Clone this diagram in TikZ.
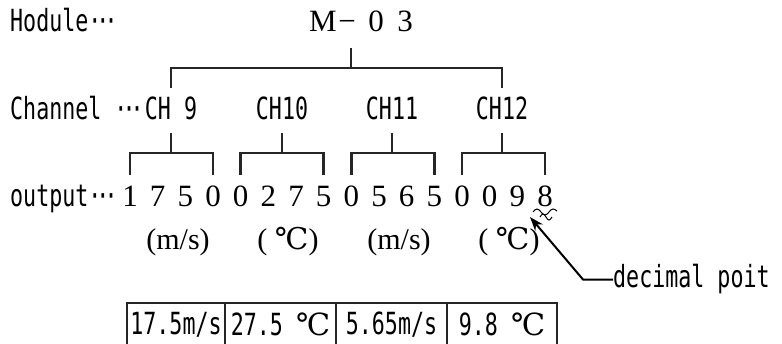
\documentclass[tikz,border=0pt]{standalone}
\usepackage{fontspec}
\setmainfont{Liberation Serif}
\newfontfamily\gothic[FakeStretch=0.71]{DejaVu Sans Mono}
\newfontfamily\degfont{DejaVu Serif}
\usetikzlibrary{arrows.meta}

\newcommand{\tridots}{·\kern-5pt·\kern-5pt·}
\newcommand{\degc}{{\degfont ℃}}

\begin{document}
\begin{tikzpicture}[
  x=1pt,
  y=1pt,
  lefttext/.style={
    font=\gothic\fontsize{30.5}{32}\selectfont,
    inner sep=0pt,
    anchor=base west
  },
  chan/.style={
    font=\gothic\fontsize{30.5}{32}\selectfont,
    inner sep=0pt,
    anchor=base
  },
  digit/.style={
    font=\fontsize{31}{33}\selectfont,
    inner sep=0pt,
    anchor=base
  },
  unit/.style={
    font=\fontsize{30}{32}\selectfont,
    inner sep=0pt,
    anchor=base
  },
  bracket/.style={
    draw=black!85,
    line width=2.4pt,
    line join=miter
  },
  cell/.style={
    draw=black!85,
    line width=1.4pt,
    minimum height=43pt,
    inner sep=0pt,
    font=\gothic\fontsize{30.5}{32}\selectfont
  },
  pointer/.style={
    draw=black,
    line width=2pt,
    -{Stealth[length=14pt,width=10pt]}
  }
]

\useasboundingbox (0,0) rectangle (782,-344);

% left captions
\node[lefttext] (modlab) at (10,-32) {Hodule\tridots};
\node[lefttext] (chlab) at (10,-120) {Channel \tridots};
\node[lefttext] (outlab) at (10,-207) {output\tridots};

% module name
\foreach \ch/\px [count=\i from 0] in {M/323,−/347,0/376,3/405}
  \node[digit] (m\i) at (\px,-32) {\ch};

% channels
\node[chan] (ch9) at (171,-120) {CH 9};
\node[chan] (ch10) at (282,-120) {CH10};
\node[chan] (ch11) at (392,-120) {CH11};
\node[chan] (ch12) at (502,-120) {CH12};

% output digits
\foreach \dg [count=\i] in {1,7,5,0,0,2,7,5,0,5,6,5,0,0,9,8}
  \node[digit] (d\i) at ({130+27.67*(\i-1)},-207) {\dg};

% units
\node[unit] (u9) at (178,-250) {(m/s)};
\node[unit] (u10) at (288,-250) {( \degc)};
\node[unit] (u11) at (399,-250) {(m/s)};
\node[unit] (u12) at (509,-250) {( \degc)};

% module -> channels
\coordinate (modtap) at ([xshift=4pt,yshift=-16pt]m1.base);
\coordinate (hub) at ([xshift=4pt,yshift=-36pt]m1.base);
\draw[bracket] (modtap) -- (hub);
\draw[bracket] ([yshift=32pt]ch9.base) |- (hub) -| ([yshift=32pt]ch12.base);

% channels -> digits
\foreach \k/\a/\b in {9/1/4,10/5/8,11/9/12,12/13/16} {
  \coordinate (j\k) at ([yshift=-33pt]ch\k.base);
  \draw[bracket] ([yshift=-13pt]ch\k.base) -- (j\k);
  \draw[bracket] ([yshift=32pt]d\a.base) |- (j\k) -| ([yshift=32pt]d\b.base);
}

% decimal point mark
\draw[line width=1pt] (533,-212) sin (537,-209) cos (541,-212) sin (545,-215) cos (549,-212) sin (553,-209) cos (557,-211);
\draw[line width=1pt] (540,-217) sin (543,-214) cos (546,-217) sin (549,-220) cos (552,-217);

\node[lefttext] (dp) at (613,-288) {decimal poit};
\coordinate (dptip) at (530,-217);
\draw[pointer] (dp.west) -- ++(-30,0) -- (dptip);

% result table
\node[cell, minimum width=98pt] (c1) at (176,-324.5) {17.5m/s};
\node[cell, minimum width=111pt] (c2) at (280.5,-324.5) {27.5 \degc};
\node[cell, minimum width=111pt] (c3) at (391.5,-324.5) {5.65m/s};
\node[cell, minimum width=110pt] (c4) at (502,-324.5) {9.8 \degc};

\end{tikzpicture}
\end{document}
